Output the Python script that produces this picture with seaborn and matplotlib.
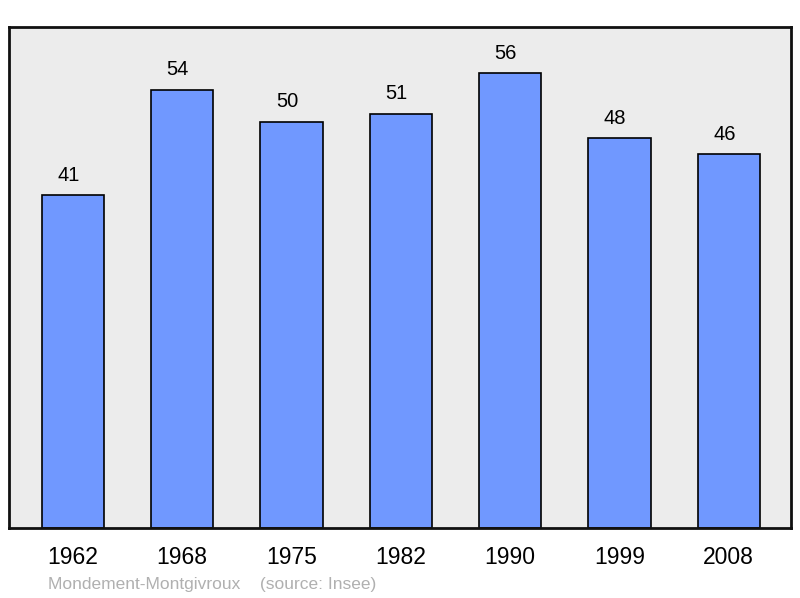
import matplotlib
matplotlib.use("Agg")
import matplotlib.pyplot as plt
import seaborn as sns
import pandas as pd

years = ["1962", "1968", "1975", "1982", "1990", "1999", "2008"]
population = [41, 54, 50, 51, 56, 48, 46]

df = pd.DataFrame({"year": years, "pop": population})

sns.set_style("white")
plt.rcParams['font.family'] = ['Liberation Sans', 'DejaVu Sans']
plt.rcParams['text.color'] = 'black'
plt.rcParams['xtick.color'] = 'black'

fig = plt.figure(figsize=(8, 5.98), dpi=100)
ax = fig.add_axes([9 / 800, 1 - 528 / 598, 782 / 800, 501 / 598])
ax.set_facecolor('#ececec')

sns.barplot(data=df, x="year", y="pop", color='#7098ff', saturation=1,
            width=0.57, edgecolor='black', linewidth=1.2, ax=ax)

# value labels sit a little left of bar centre in the original
for i, v in enumerate(population):
    ax.text(i - 0.04, v + 1.3, str(v), ha='center', va='bottom', fontsize=14.5, color='black')

ax.set_xlim(-0.585, 6.57)
ax.set_ylim(0, 61.7)
ax.set_yticks([])
ax.set_xlabel('')
ax.set_ylabel('')
ax.tick_params(axis='x', length=0, labelsize=16.5, pad=13, labelcolor='black')
for s in ax.spines.values():
    s.set_linewidth(2)
    s.set_color('#111111')

fig.text(48 / 800, 1 - 584 / 598, "Mondement-Montgivroux    (source: Insee)",
         color='#b0b0b0', fontsize=12.5, va='center', ha='left')

fig.savefig("out.png", dpi=100)
